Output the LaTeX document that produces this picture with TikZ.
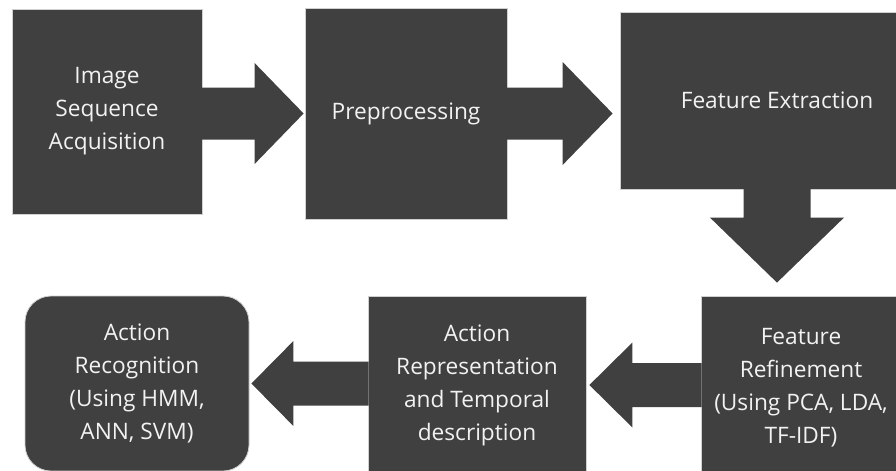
\documentclass[tikz,border=0pt]{standalone}
\usepackage{fontspec}
\setmainfont{Open Sans}
\usetikzlibrary{calc}
\definecolor{boxgray}{HTML}{404040}
\definecolor{edgegray}{HTML}{D0D0D0}
\definecolor{textwhite}{HTML}{F2F2F2}
\tikzset{
  stage/.style={rectangle, fill=boxgray, draw=edgegray, line width=0.6pt,
    text=textwhite, align=center, inner sep=0pt,
    font=\fontsize{17}{24.75}\selectfont},
  arrowfill/.style={fill=boxgray},
}
\begin{document}
\begin{tikzpicture}[x=0.75pt,y=-0.75pt]
        \clip (0,0) rectangle (896,471);
        \fill[white] (0,0) rectangle (896,471);
        % the stages of the pipeline
        \node[stage, minimum width=142.5pt, minimum height=153.75pt] (acq)       at (107,111.5) {Image\\Sequence\\Acquisition};
        \node[stage, minimum width=151.5pt, minimum height=158.25pt] (prep)      at (406,113.5) {Preprocessing};
        \node[stage, minimum width=235.5pt, minimum height=132.75pt] (extract)   at (777,100.5) {Feature Extraction};
        \node[stage, minimum width=150pt,   minimum height=137.25pt] (refine)    at (801,387.5) {Feature\\Refinement\\(Using PCA, LDA,\\TF-IDF)};
        \node[stage, minimum width=163.5pt, minimum height=133.5pt]  (represent) at (477,385)   {Action\\Representation\\and Temporal\\description};
        \node[stage, minimum width=168pt,   minimum height=131.25pt, rounded corners=19.5pt] (recog) at (137,383.5) {Action\\Recognition\\(Using HMM,\\ANN, SVM)};
        % coordinates for the arrows
        \coordinate (a1tail) at (acq.east |- prep.west);
        \coordinate (a1tip)  at ($(prep.west)+(-1,0)$);
        \coordinate (a2tail) at (prep.east);
        \coordinate (a2tip)  at ($(extract.west |- prep.east)+(-7,0)$);
        \coordinate (a3tail) at (extract.south);
        \coordinate (a3tip)  at ($(refine.north -| extract.south)+(0,-13)$);
        \coordinate (a4tail) at (refine.west |- represent.east);
        \coordinate (a4tip)  at ($(represent.east)+(3,0)$);
        \coordinate (a5tail) at (represent.west |- recog.east);
        \coordinate (a5tip)  at ($(recog.east)+(2,0)$);
        % drawing the arrows
        \fill[arrowfill] ($(a1tail)+(-1,-26)$) -- ($(a1tip)+(-49,-26)$) -- ($(a1tip)+(-49,-50.5)$) -- (a1tip)
              -- ($(a1tip)+(-49,50.5)$) -- ($(a1tip)+(-49,26)$) -- ($(a1tail)+(-1,26)$) -- cycle;
        \fill[arrowfill] ($(a2tail)+(-1,-26)$) -- ($(a2tip)+(-50,-26)$) -- ($(a2tip)+(-50,-51.5)$) -- (a2tip)
              -- ($(a2tip)+(-50,51.5)$) -- ($(a2tip)+(-50,26)$) -- ($(a2tail)+(-1,26)$) -- cycle;
        \fill[arrowfill] ($(a3tail)+(-33.5,-1)$) -- ($(a3tip)+(-33.5,-65)$) -- ($(a3tip)+(-67,-65)$) -- (a3tip)
              -- ($(a3tip)+(67,-65)$) -- ($(a3tip)+(33.5,-65)$) -- ($(a3tail)+(33.5,-1)$) -- cycle;
        \fill[arrowfill] ($(a4tail)+(1,-22)$) -- ($(a4tip)+(43,-22)$) -- ($(a4tip)+(43,-42.5)$) -- (a4tip)
              -- ($(a4tip)+(43,42.5)$) -- ($(a4tip)+(43,22)$) -- ($(a4tail)+(1,22)$) -- cycle;
        \fill[arrowfill] ($(a5tail)+(1,-22)$) -- ($(a5tip)+(42,-22)$) -- ($(a5tip)+(42,-42.5)$) -- (a5tip)
              -- ($(a5tip)+(42,42.5)$) -- ($(a5tip)+(42,22)$) -- ($(a5tail)+(1,22)$) -- cycle;
\end{tikzpicture}
\end{document}
